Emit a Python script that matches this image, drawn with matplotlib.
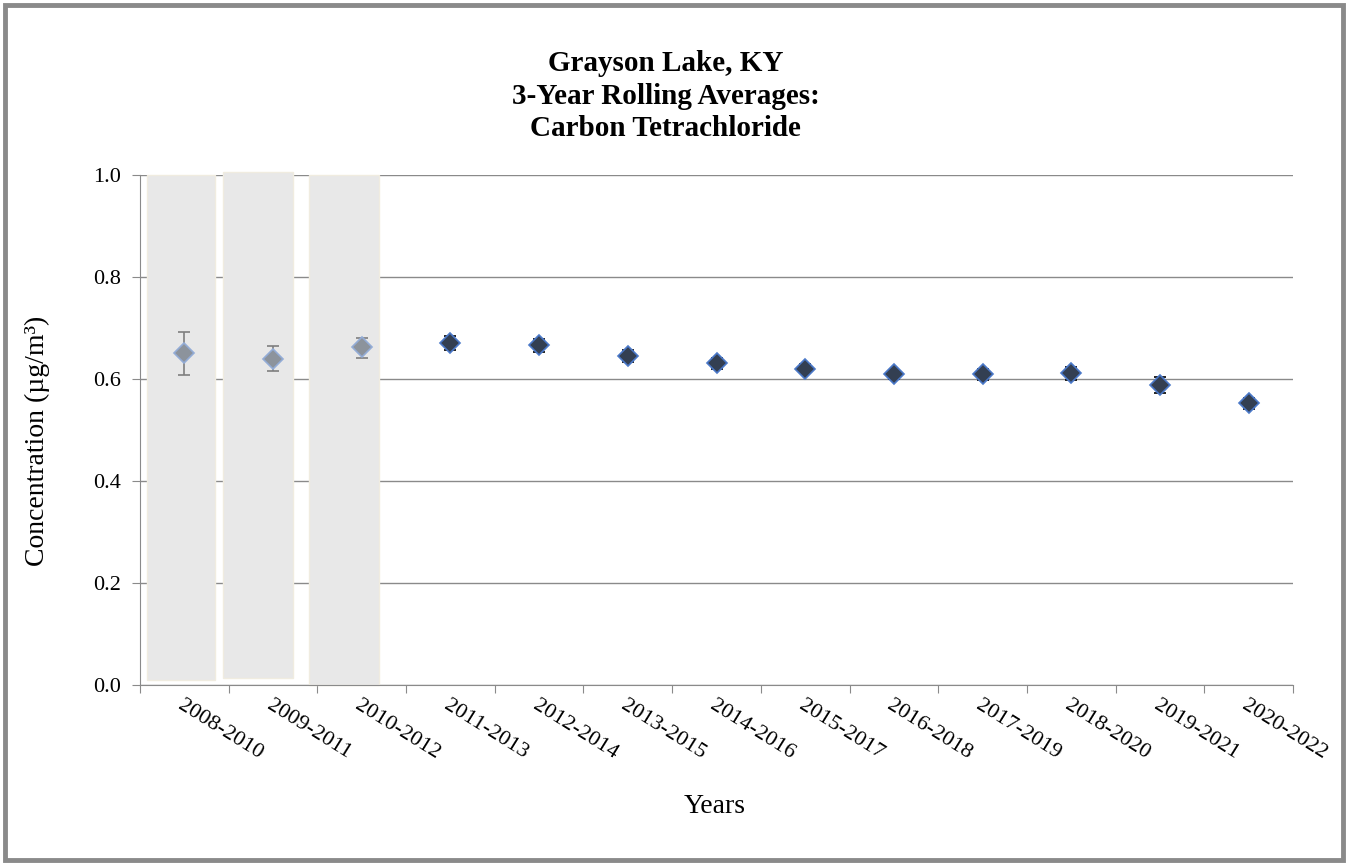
import matplotlib.pyplot as plt
from matplotlib.patches import Rectangle
import numpy as np

# Data
periods = ['2008-2010', '2009-2011', '2010-2012', '2011-2013', '2012-2014',
           '2013-2015', '2014-2016', '2015-2017', '2016-2018', '2017-2019',
           '2018-2020', '2019-2021', '2020-2022']
means = [0.650, 0.640, 0.662, 0.670, 0.666, 0.645, 0.631, 0.620, 0.609,
         0.609, 0.611, 0.589, 0.552]
err_low = [0.043, 0.025, 0.020, 0.014, 0.013, 0.012, 0.011, 0.009, 0.009,
           0.010, 0.012, 0.016, 0.011]
err_high = [0.043, 0.025, 0.018, 0.014, 0.012, 0.012, 0.010, 0.009, 0.008,
            0.010, 0.012, 0.015, 0.011]
n_incomplete = 3  # first three periods are shaded (greyed out)

plt.rcParams['font.family'] = 'serif'
plt.rcParams['font.serif'] = ['Liberation Serif', 'DejaVu Serif']

fig = plt.figure(figsize=(13.48, 8.65), dpi=100)
ax = fig.add_axes([0.1039, 0.2081, 0.8553, 0.5896])

x = np.arange(len(periods)) + 0.5

# shaded boxes behind the incomplete periods
boxes = [(0.08, 0.01, 0.77, 0.99), (0.94, 0.013, 0.78, 0.992), (1.90, 0.0, 0.79, 1.0)]
for left, bottom, w, h in boxes:
    ax.add_patch(Rectangle((left, bottom), w, h, facecolor='#e8e8e8',
                           edgecolor='#f0ece0', lw=1, zorder=1, clip_on=False))

for i in range(len(periods)):
    grey = i < n_incomplete
    ax.errorbar(x[i], means[i], yerr=[[err_low[i]], [err_high[i]]],
                fmt='D', markersize=10.5,
                mfc='#8c939c' if grey else '#333f52',
                mec='#93acd6' if grey else '#4a78c8', mew=1.2,
                ecolor='#7f7f7f' if grey else 'black', elinewidth=1.2,
                capsize=4, capthick=1.2, zorder=3)

ax.set_xlim(0, len(periods))
ax.set_ylim(0, 1.0)
ax.set_yticks(np.arange(0, 1.01, 0.2))
ax.set_yticklabels(['%.1f' % v for v in np.arange(0, 1.01, 0.2)], fontsize=16)
ax.yaxis.grid(True, color='#8a8a8a', lw=1)
ax.set_axisbelow(True)

ax.set_xticks(np.arange(len(periods) + 1))
ax.set_xticklabels([])
ax.set_xticks(x, minor=True)
ax.set_xticklabels(periods, minor=True, rotation=-32, ha='left', va='top',
                   rotation_mode='anchor', fontsize=16)
ax.tick_params(axis='x', which='minor', length=0, pad=8)
ax.tick_params(axis='x', which='major', length=6, color='#8a8a8a')
ax.tick_params(axis='y', length=6, color='#8a8a8a', pad=8)

for s in ['top', 'right']:
    ax.spines[s].set_visible(False)
for s in ['left', 'bottom']:
    ax.spines[s].set_color('#8a8a8a')

fig.text(0.028, 0.49, 'Concentration (µg/m³)', rotation=90, ha='center',
         va='center', fontsize=20)
fig.text(0.53, 0.068, 'Years', ha='center', va='center', fontsize=20)
fig.text(0.494, 0.889, 'Grayson Lake, KY\n3-Year Rolling Averages:\nCarbon Tetrachloride',
         ha='center', va='center', fontsize=21, fontweight='bold', linespacing=1.25)

# outer border
fig.add_artist(Rectangle((0.004, 0.006), 0.992, 0.988, transform=fig.transFigure,
                         fill=False, edgecolor='#8a8a8a', lw=3.5))

fig.savefig('out.png', dpi=100)
